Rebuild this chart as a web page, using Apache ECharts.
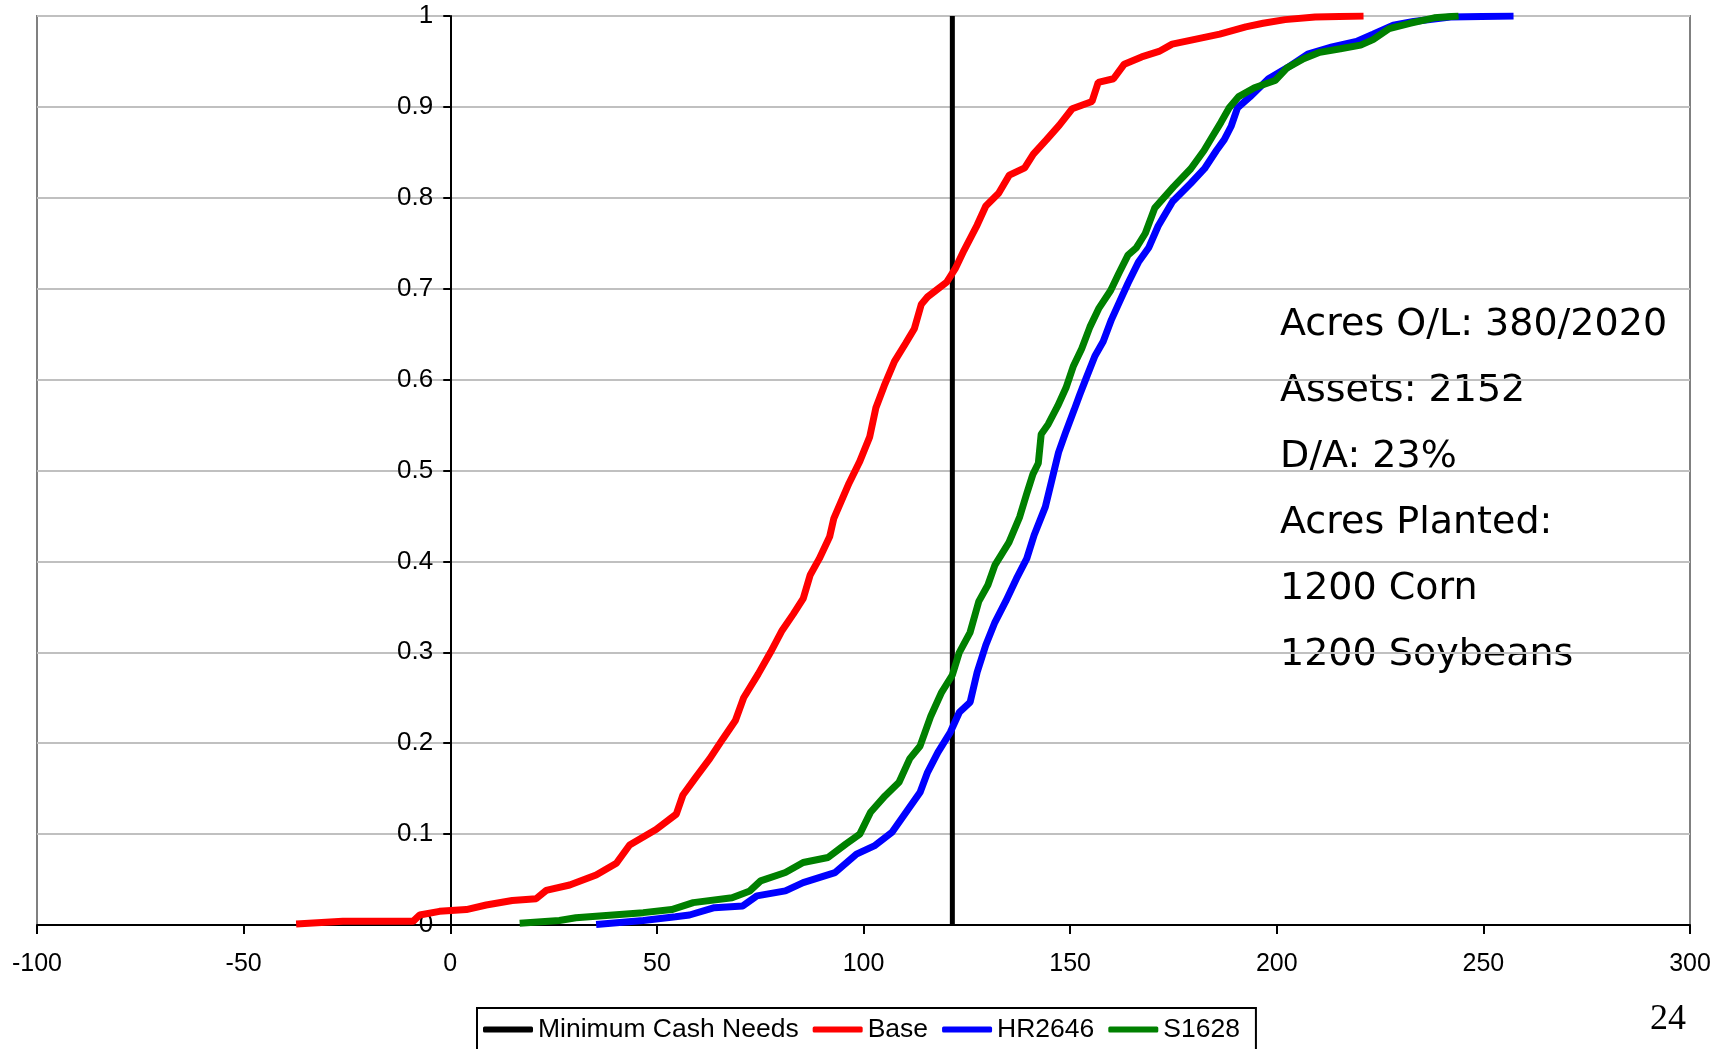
<!DOCTYPE html>
<html>
<head>
<meta charset="utf-8">
<script src="https://cdn.jsdelivr.net/npm/echarts@6/dist/echarts.min.js"></script>
<style>
  html, body { margin: 0; padding: 0; background: #fff; }
  #chart { width: 1731px; height: 1049px; }
</style>
</head>
<body>
<div id="chart"></div>
<script>
// cumulative probability curves, [value, probability]
const minimumCash = [[121.5, 0], [121.5, 1]];

const baseCdf = [
  [-37.3, 0.001], [-26, 0.004], [-9, 0.004], [-7.4, 0.011], [-2.6, 0.015], [3.9, 0.017],
  [8.7, 0.022], [15, 0.027], [20.8, 0.029], [23.2, 0.038], [28.9, 0.044], [35.3, 0.055],
  [40.2, 0.068], [43.4, 0.088], [49.8, 0.105], [54.7, 0.122], [56.3, 0.143], [59.5, 0.163],
  [62.8, 0.183], [66, 0.205], [69, 0.225], [71, 0.25], [74.5, 0.276], [77.5, 0.3],
  [80.3, 0.324], [83, 0.342], [85.4, 0.359], [87.1, 0.385], [89.3, 0.403], [91.8, 0.427],
  [92.8, 0.447], [96.5, 0.486], [99.1, 0.51], [101.5, 0.537], [103, 0.569], [105, 0.593],
  [107.5, 0.62], [110.2, 0.64], [112.3, 0.656], [114, 0.683], [115.5, 0.691], [120.1, 0.707],
  [122.2, 0.722], [124.3, 0.742], [127.5, 0.77], [129.6, 0.791], [132.7, 0.805], [135.3, 0.825],
  [139, 0.833], [141.1, 0.848], [144.3, 0.864], [147.4, 0.88], [150.5, 0.898], [155.3, 0.906],
  [156.8, 0.927], [160.5, 0.931], [163.1, 0.947], [167.3, 0.955], [171.5, 0.961], [174.7, 0.969],
  [179.9, 0.974], [186.2, 0.98], [192.5, 0.988], [196.7, 0.992], [202, 0.996], [209.3, 0.999],
  [221, 1.0]
];

const hr2646Cdf = [
  [35.3, 0.0005], [46.7, 0.005], [54.5, 0.009], [57.9, 0.011], [63.9, 0.019], [70.8, 0.021],
  [74.2, 0.032], [81.1, 0.0375], [85.4, 0.0467], [93.1, 0.0577], [98.3, 0.078], [102.6, 0.087],
  [106.9, 0.102], [110.3, 0.124], [113.7, 0.146], [115.5, 0.168], [118, 0.19], [121, 0.212],
  [123.2, 0.234], [125.8, 0.245], [127.5, 0.278], [129.6, 0.308], [131.8, 0.333], [134.4, 0.356],
  [137, 0.381], [139.5, 0.403], [141.3, 0.429], [144, 0.46], [145.5, 0.488], [147.2, 0.52],
  [149, 0.543], [151, 0.567], [152.3, 0.583], [154, 0.603], [156, 0.626], [158, 0.642],
  [160, 0.666], [162, 0.686], [164, 0.706], [166.5, 0.729], [169, 0.745], [171.3, 0.769],
  [174.8, 0.796], [179.2, 0.816], [182.5, 0.832], [185.4, 0.852], [187.3, 0.864], [189, 0.879],
  [190.5, 0.899], [193.5, 0.911], [198, 0.931], [202.5, 0.943], [207.5, 0.958], [213.4, 0.966],
  [219.3, 0.972], [223.3, 0.98], [228.2, 0.99], [233.1, 0.994], [242, 0.999], [257.3, 1.0]
];

const s1628Cdf = [
  [16.8, 0.002], [26.4, 0.005], [30.4, 0.008], [36.1, 0.01], [46.7, 0.0136], [53.6, 0.017],
  [58.8, 0.0246], [68.2, 0.03], [72.5, 0.0375], [75.1, 0.0485], [81.1, 0.0577], [85.4, 0.0688],
  [91.4, 0.0743], [95.7, 0.089], [99.1, 0.1], [101.7, 0.124], [105.2, 0.142], [108.6, 0.157],
  [111.2, 0.183], [113.7, 0.197], [116.3, 0.23], [118.9, 0.256], [121.5, 0.275], [123.2, 0.3],
  [125.8, 0.322], [127.9, 0.356], [130.1, 0.374], [131.8, 0.396], [135.2, 0.421], [137.8, 0.449],
  [139.6, 0.476], [141, 0.496], [142.3, 0.508], [143, 0.54], [144.7, 0.551], [147, 0.571],
  [149, 0.591], [150.8, 0.615], [152.8, 0.634], [154.8, 0.658], [156.9, 0.678], [159.8, 0.698],
  [161.8, 0.717], [164, 0.737], [166, 0.745], [168.2, 0.761], [170.5, 0.789], [175, 0.812],
  [179.2, 0.832], [182.4, 0.852], [184.5, 0.868], [186.5, 0.883], [188.5, 0.899], [190.7, 0.911],
  [194.6, 0.921], [199.6, 0.929], [202.5, 0.943], [206.5, 0.953], [210.4, 0.96], [215.4, 0.964],
  [220.3, 0.968], [223.3, 0.974], [227.2, 0.986], [232.2, 0.992], [238.1, 0.998], [244, 1.0]
];

const seriesNames = ['Minimum Cash Needs', 'Base', 'HR2646', 'S1628'];
const seriesColors = ['#000000', '#ff0000', '#0000ff', '#008000'];
const seriesData = [minimumCash, baseCdf, hr2646Cdf, s1628Cdf];

const noteLines = ['Acres O/L: 380/2020', 'Assets: 2152', 'D/A: 23%', 'Acres Planted:', '1200 Corn', '1200 Soybeans'];
const pageNumber = '24';

const gridLeft = 37, gridRight = 41, chartWidth = 1731;
const xMin = -100, xMax = 300;
// y axis sits where x = 0, so shift it inwards by that many pixels
const yAxisShift = (0 - xMin) / (xMax - xMin) * (chartWidth - gridLeft - gridRight);

const chart = echarts.init(document.getElementById('chart'));

const option = {
  animation: false,
  backgroundColor: '#fff',
  grid: {
    left: gridLeft, right: gridRight, top: 16, bottom: 124,
    outerBoundsMode: 'none',
    containLabel: false,
    show: true, borderColor: '#808080', borderWidth: 2
  },
  legend: {
    data: seriesNames,
    left: 477, top: 1008,
    orient: 'horizontal',
    icon: 'roundRect',
    itemWidth: 50, itemHeight: 6, itemGap: 14,
    padding: [8, 16, 8, 6],
    borderColor: '#000', borderWidth: 2,
    textStyle: { fontFamily: 'Liberation Sans', fontSize: 26.5, color: '#000' }
  },
  xAxis: {
    type: 'value',
    min: xMin, max: xMax, interval: 50,
    axisLine: { show: true, onZero: true, lineStyle: { color: '#000', width: 2 } },
    axisTick: { show: true, length: 9, lineStyle: { color: '#000', width: 2 } },
    axisLabel: { fontFamily: 'Liberation Sans', fontSize: 25, color: '#000', margin: 27 },
    splitLine: { show: false }
  },
  yAxis: {
    type: 'value',
    min: 0, max: 1, interval: 0.1,
    position: 'left',
    offset: -yAxisShift,
    axisLine: { show: true, onZero: false, lineStyle: { color: '#000', width: 2 } },
    axisTick: { show: true, length: 7, lineStyle: { color: '#000', width: 2 } },
    axisLabel: { fontFamily: 'Liberation Sans', fontSize: 26, color: '#000', margin: 17 },
    splitLine: { show: true, lineStyle: { color: '#c0c0c0', width: 2 } }
  },
  graphic: [
    {
      type: 'text', left: 1280, top: 292, silent: true,
      style: {
        text: noteLines.join('\n'),
        fontFamily: 'DejaVu Sans', fontSize: 38, lineHeight: 66,
        fill: '#000'
      }
    },
    {
      type: 'text', left: 1650, top: 1002, silent: true,
      style: { text: pageNumber, fontFamily: 'Liberation Serif', fontSize: 36, fill: '#000' }
    }
  ],
  series: seriesNames.map((name, i) => ({
    name: name,
    type: 'line',
    data: seriesData[i],
    color: seriesColors[i],
    showSymbol: false,
    symbol: 'none',
    lineStyle: { color: seriesColors[i], width: i === 0 ? 5 : 7 },
    z: 2 + i
  }))
};

chart.setOption(option);
</script>
</body>
</html>
